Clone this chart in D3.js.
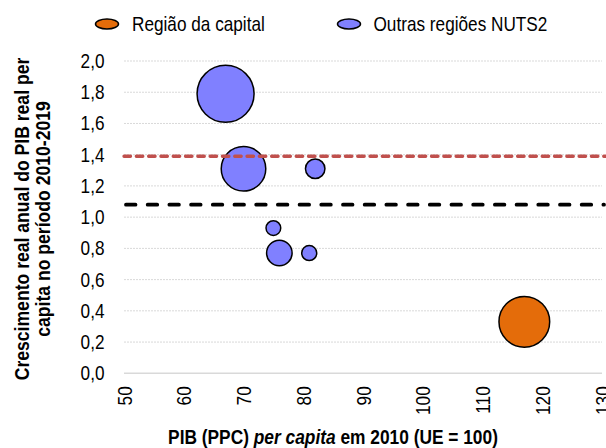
<!DOCTYPE html>
<html>
<head>
<meta charset="utf-8">
<script src="https://cdn.jsdelivr.net/npm/d3@7"></script>
<style>
  html, body { margin: 0; padding: 0; background: #fff; }
  svg { display: block; }
  text { font-family: "Liberation Sans", Arial, sans-serif; fill: #000; }
</style>
</head>
<body>
<svg id="chart" width="606" height="448"></svg>
<script>
// ---- data ----
const regions   = ["Norte", "Centro", "Algarve", "Açores", "Alentejo", "Madeira", "Área Metropolitana de Lisboa"];
const groups    = ["outras", "outras", "outras", "outras", "outras", "outras", "capital"];
const gdp2010   = [67, 70, 82, 75, 76, 81, 117];
const growth    = [1.79, 1.31, 1.31, 0.93, 0.77, 0.77, 0.33];
const sizes     = [3.6, 2.2, 0.42, 0.24, 0.72, 0.25, 2.85];
const refLines  = [1.39, 1.08];   // red, black
const xTicks    = [50, 60, 70, 80, 90, 100, 110, 120, 130];
const yTicks    = [0, 0.2, 0.4, 0.6, 0.8, 1.0, 1.2, 1.4, 1.6, 1.8, 2.0];
const legendLabels = ["Região da capital", "Outras regiões NUTS2"];

const colors = { capital: "#E46C0A", outras: "#8080FF" };

const svg = d3.select("#chart");
const pLeft = 124, pRight = 602, pTop = 61, pBottom = 373.3;
const fs = 20;      // font size
const sx = 0.86;    // horizontal condensing of the text (narrow face)

const x = d3.scaleLinear().domain([50, 130]).range([pLeft, pRight]);
const y = d3.scaleLinear().domain([0, 2]).range([pBottom, pTop]);
const r = d3.scaleSqrt().domain([0, 3.6]).range([0, 28.5]);
const fmt = d3.format(".1f");
const comma = v => fmt(v).replace(".", ",");

// gridlines
svg.append("g").selectAll("line").data(yTicks.filter(d => d > 0)).join("line")
  .attr("x1", pLeft).attr("x2", pRight)
  .attr("y1", d => y(d)).attr("y2", d => y(d))
  .attr("stroke", "#d9d9d9").attr("stroke-width", 1).attr("stroke-dasharray", "2,1");

// x axis baseline
svg.append("line").attr("x1", pLeft).attr("x2", pRight)
  .attr("y1", y(0)).attr("y2", y(0))
  .attr("stroke", "#d9d9d9").attr("stroke-width", 1.5);

// y tick labels
const yAxis = d3.axisLeft(y).tickValues(yTicks).tickFormat(comma).tickSize(0).tickPadding(0);
const gy = svg.append("g").attr("transform", `translate(104.5,0)`).call(yAxis);
gy.select(".domain").remove();
gy.selectAll("text").attr("font-size", fs).attr("font-family", null).attr("fill", "#000")
  .attr("transform", `scale(${sx},1)`);

// x tick labels (rotated)
const xAxis = d3.axisBottom(x).tickValues(xTicks).tickFormat(d3.format("d")).tickSize(0);
const gx = svg.append("g").attr("transform", `translate(0,${pBottom})`).call(xAxis);
gx.select(".domain").remove();
gx.selectAll("text")
  .attr("font-size", fs).attr("font-family", null).attr("fill", "#000")
  .attr("transform", `rotate(-90) scale(${sx},1)`)
  .attr("text-anchor", "end")
  .attr("x", -13 / sx).attr("y", 0).attr("dy", "0.35em");

// bubbles
const idx = d3.range(gdp2010.length);
svg.append("g").selectAll("circle").data(idx).join("circle")
  .attr("cx", i => x(gdp2010[i]))
  .attr("cy", i => y(growth[i]))
  .attr("r", i => r(sizes[i]))
  .attr("fill", i => colors[groups[i]])
  .attr("stroke", "#000").attr("stroke-width", 1.5);

// reference lines
svg.append("line").attr("x1", pLeft).attr("x2", 606)
  .attr("y1", y(refLines[0])).attr("y2", y(refLines[0]))
  .attr("stroke", "#C0504D").attr("stroke-width", 3.3)
  .attr("stroke-dasharray", "6.5,5.8").attr("stroke-linecap", "round");
svg.append("line").attr("x1", pLeft + 2).attr("x2", 604)
  .attr("y1", y(refLines[1])).attr("y2", y(refLines[1]))
  .attr("stroke", "#000").attr("stroke-width", 3.8)
  .attr("stroke-dasharray", "9.5,12.2").attr("stroke-linecap", "round");

// legend
const leg = [{ key: "capital", cx: 107, tx: 132 }, { key: "outras", cx: 349, tx: 373.5 }];
leg.forEach((l, i) => {
  svg.append("ellipse").attr("cx", l.cx).attr("cy", 24).attr("rx", 11.5).attr("ry", 5)
    .attr("fill", colors[l.key]).attr("stroke", "#000").attr("stroke-width", 1.5);
  svg.append("text").attr("transform", `translate(${l.tx},30.5) scale(${sx},1)`)
    .attr("font-size", fs).text(legendLabels[i]);
});

// y axis title
const yt = svg.append("text").attr("transform", "translate(0,219) rotate(-90) scale(0.88,1)")
  .attr("text-anchor", "middle").attr("font-size", fs).attr("font-weight", "bold");
yt.append("tspan").attr("x", 0).attr("y", 29).text("Crescimento real anual do PIB real per");
yt.append("tspan").attr("x", 0).attr("y", 50.5).text("capita no período 2010-2019");

// x axis title
const xt = svg.append("text").attr("transform", "translate(333,443.5) scale(0.867,1)")
  .attr("text-anchor", "middle").attr("font-size", fs).attr("font-weight", "bold");
xt.append("tspan").text("PIB (PPC) ");
xt.append("tspan").attr("font-style", "italic").text("per capita");
xt.append("tspan").text(" em 2010 (UE = 100)");
</script>
</body>
</html>
